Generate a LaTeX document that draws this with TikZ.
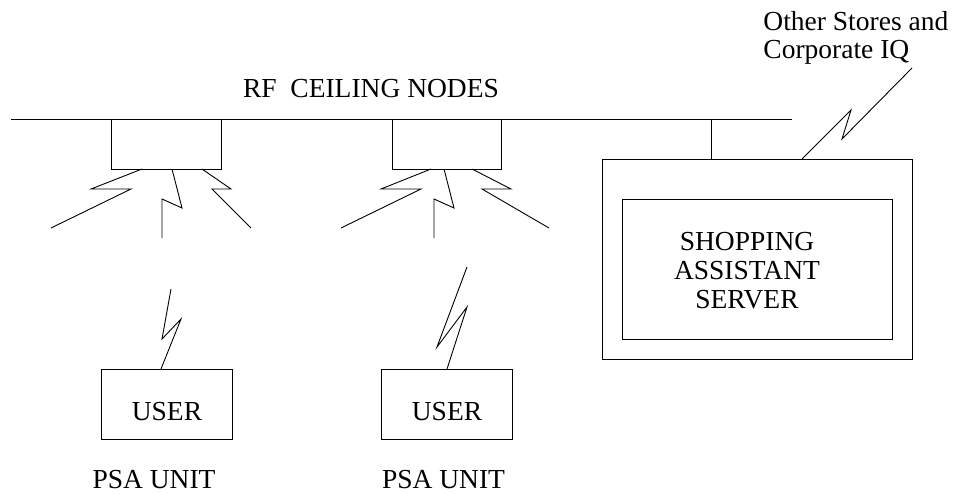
\documentclass[tikz,border=0pt]{standalone}
\usepackage{fontspec}
\setmainfont{Liberation Serif}
\usetikzlibrary{calc}
\begin{document}
\begin{tikzpicture}[x=1pt,y=-1pt,line width=0.9pt,
  boxed/.style={draw,inner sep=0pt,outer sep=0pt},
  lbl/.style={inner sep=0pt,font=\fontsize{27.5}{29}\selectfont},
  wire/.style={draw,line join=miter}]
\useasboundingbox (0,0) rectangle (953,493);
% bus
\coordinate (busL) at (11,119);
\coordinate (busR) at (792,119);
\draw[wire] (busL) -- (busR);
\node[lbl,anchor=base] (rf) at (371,97) {RF\ \ CEILING NODES};
% ceiling nodes
\node[boxed,minimum width=110pt,minimum height=50pt] (n1) at (166,144) {};
\node[boxed,minimum width=109pt,minimum height=50pt] (n2) at (446.5,144) {};
% rays of node 1
\coordinate (r1a) at (51,228);
\coordinate (r1b) at (162,238);
\coordinate (r1c) at (251,228);
\draw[wire] ($(n1.south west)+(31,0)$) -- (91,189) -- (131,189) -- (r1a);
\draw[wire] ($(n1.south west)+(61,0)$) -- (182,208) -- (162,199) -- (r1b);
\draw[wire] ($(n1.south west)+(91,0)$) -- (231,189) -- (212,189) -- (r1c);
% rays of node 2
\coordinate (r2a) at (341,228);
\coordinate (r2b) at (434,238);
\coordinate (r2c) at (549,228);
\draw[wire] ($(n2.south west)+(39,0)$) -- (381,189) -- (421,189) -- (r2a);
\draw[wire] ($(n2.south west)+(52,0)$) -- (454,208) -- (434,199) -- (r2b);
\draw[wire] ($(n2.south west)+(80,0)$) -- (511,189) -- (482,189) -- (r2c);
% users
\node[boxed,minimum width=131pt,minimum height=70pt] (u1) at (166.5,404) {};
\node[boxed,minimum width=131pt,minimum height=70pt] (u2) at (446.5,404) {};
\node[lbl,anchor=base] (u1t) at (167,420) {USER};
\node[lbl,anchor=base] (u2t) at (447,420) {USER};
\node[lbl,anchor=base] (p1) at (154,488) {PSA UNIT};
\node[lbl,anchor=base] (p2) at (443.5,488) {PSA UNIT};
\coordinate (u1top) at (171,289);
\coordinate (u2top) at (467,267);
\draw[wire] ($(u1.north west)+(60,0)$) -- (181,319) -- (162,339) -- (u1top);
\draw[wire] ($(u2.north west)+(66,0)$) -- (467,307) -- (437,347) -- (u2top);
% server
\node[boxed,minimum width=310pt,minimum height=200pt] (outer) at (757,259) {};
\node[boxed,minimum width=270pt,minimum height=140pt] (inner) at (757,269) {};
\node[lbl,align=center,anchor=base] (srv) at (747,308) {SHOPPING\\ASSISTANT\\SERVER};
\draw[wire] (711,119) -- ($(outer.north west)+(109,0)$);
% uplink
\node[lbl,anchor=base west] (os1) at (763,30) {Other Stores and};
\node[lbl,anchor=base west] (os2) at (763,58) {Corporate IQ};
\coordinate (uplink) at (912,68);
\draw[wire] ($(outer.north west)+(200,0)$) -- (851,110) -- (842,139) -- (uplink);
\end{tikzpicture}
\end{document}
